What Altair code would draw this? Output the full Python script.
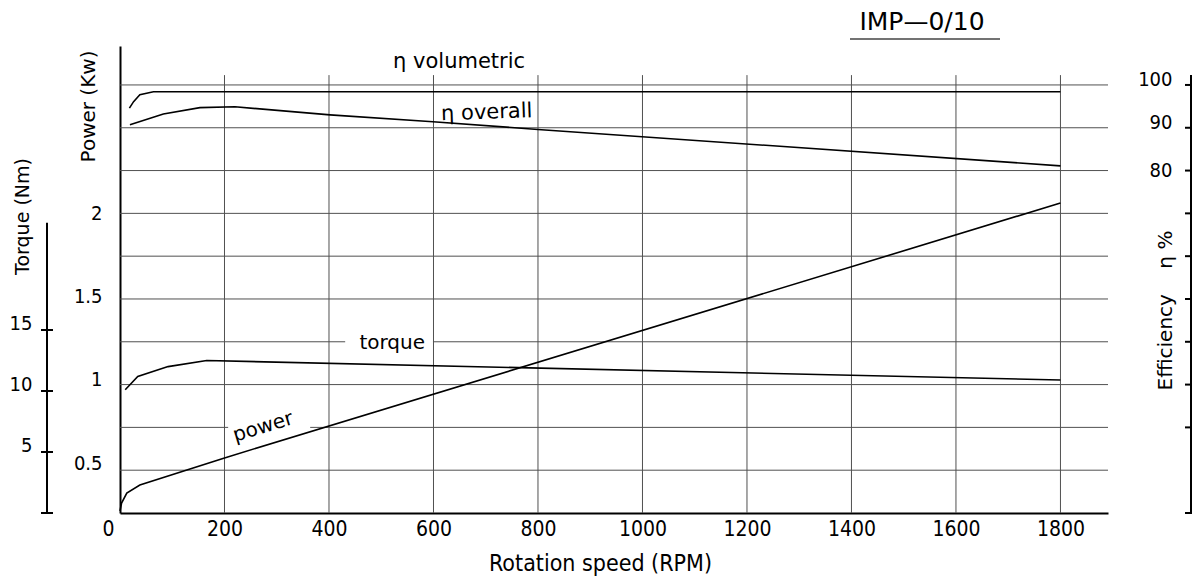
import altair as alt
import pandas as pd

NARROW = "Liberation Sans Narrow, DejaVu Sans Condensed, Arial Narrow, sans-serif"
SANS = "DejaVu Sans"

# ---------------- data ----------------
rpm_ticks = [0, 200, 400, 600, 800, 1000, 1200, 1400, 1600, 1800]
rpm_domain = [0, 1891]

eff_domain = [0, 109.1]
power_domain = [0.201, 3.006]
torque_domain = [0, 38.28]

# efficiency curves (%)
vol_rpm = [18, 26, 38, 64, 1800]
vol_eff = [94.6, 96.1, 97.7, 98.4, 98.4]
ovr_rpm = [19, 83, 153, 220, 402, 599, 800, 1800]
ovr_eff = [90.7, 93.2, 94.7, 94.9, 93.0, 91.4, 89.6, 81.1]

# torque (Nm)
tq_rpm = [10, 34, 92, 166, 1800]
tq_nm = [10.1, 11.2, 12.0, 12.5, 10.9]

# power (kW)
pw_rpm = [0, 3, 13, 38, 200, 1800]
pw_kw = [0.213, 0.261, 0.321, 0.369, 0.532, 2.063]

# grid
eff_grid_levels = [10, 20, 30, 40, 50, 60, 70, 80, 90, 100]
eff_grid_gaps = {40: (431, 599), 20: (207, 364)}
vgrid_rpm = [200, 400, 600, 800, 1000, 1200, 1400, 1600, 1800]
vgrid_top = 102.3

# axes
eff_label_values = [80, 90, 100]
eff_tick_values = [0, 20, 30, 40, 50, 60, 70, 80, 90, 100]
eff_axis_top = 102.3
power_label_values = [0.5, 1, 1.5, 2]
torque_label_values = [5, 10, 15]
torque_tick_values = [0, 5, 10, 15]
torque_axis_top = 23.8

# curve labels
eff_text = ["η  volumetric", "η  overall"]
eff_text_rpm = [649, 702]
eff_text_val = [105.4, 93.5]
eff_text_angle = [0, 358]
tq_text, tq_text_rpm, tq_text_val = "torque", 521, 13.93
pw_text, pw_text_rpm, pw_text_val, pw_text_angle = "power", 274, 0.718, 343

title_text = "IMP—0/10"

# ---------------- tables ----------------
eff_curves = pd.concat([
    pd.DataFrame({"rpm": vol_rpm, "eff": vol_eff, "series": "volumetric"}),
    pd.DataFrame({"rpm": ovr_rpm, "eff": ovr_eff, "series": "overall"}),
])
hgrid_rows = []
for lvl in eff_grid_levels:
    if lvl in eff_grid_gaps:
        a, b = eff_grid_gaps[lvl]
        hgrid_rows.append({"eff": lvl, "r0": rpm_domain[0], "r1": a})
        hgrid_rows.append({"eff": lvl, "r0": b, "r1": rpm_domain[1]})
    else:
        hgrid_rows.append({"eff": lvl, "r0": rpm_domain[0], "r1": rpm_domain[1]})
hgrid = pd.DataFrame(hgrid_rows)
vgrid = pd.DataFrame({"rpm": vgrid_rpm, "e0": 0, "e1": vgrid_top})
eff_ticks = pd.DataFrame({"eff": eff_tick_values})
eff_line = pd.DataFrame({"eff": [0], "e1": [eff_axis_top]})
eff_labels = pd.DataFrame({"rpm": eff_text_rpm, "eff": eff_text_val,
                           "text": eff_text, "angle": eff_text_angle})
torque_df = pd.DataFrame({"rpm": tq_rpm, "Nm": tq_nm})
torque_ticks = pd.DataFrame({"Nm": torque_tick_values})
torque_line = pd.DataFrame({"Nm": [0], "Nm2": [torque_axis_top]})
torque_lab = pd.DataFrame({"rpm": [tq_text_rpm], "Nm": [tq_text_val], "text": [tq_text]})
power_df = pd.DataFrame({"rpm": pw_rpm, "kW": pw_kw})
power_lab = pd.DataFrame({"rpm": [pw_text_rpm], "kW": [pw_text_val], "text": [pw_text]})
title_df = pd.DataFrame({"t": [title_text]})

# ---------------- scales / axes ----------------
x_scale = alt.Scale(domain=rpm_domain, nice=False, zero=False)
x_axis = alt.Axis(
    values=rpm_ticks, format="d", grid=False, ticks=False, domainColor="black",
    domainWidth=2, labelFont=NARROW, labelFontSize=21, labelColor="black",
    labelPadding=5, labelFlush=False, labelBaseline="top",
    labelOffset={"condition": {"test": "datum.value === 0", "value": -12}, "value": 0},
    title="Rotation speed (RPM)", titleFont=NARROW, titleFontSize=23,
    titleFontWeight="normal", titleColor="black", titleX=480, titleY=50,
    titleBaseline="middle", titleAlign="center",
)


def X(field):
    return alt.X(f"{field}:Q", scale=x_scale, axis=x_axis)


eff_scale = alt.Scale(domain=eff_domain, nice=False, zero=False)
eff_axis = alt.Axis(
    orient="left", offset=-1071, values=eff_label_values, ticks=False, domain=False,
    grid=False, labelFont=NARROW, labelFontSize=20, labelColor="black", labelPadding=19,
    labelBaseline="middle",
    labelOffset={"condition": {"test": "datum.value >= 90", "value": -5}, "value": 0},
    title="Efficiency\u00a0\u00a0\u00a0\u00a0η\u00a0%", titleFont=SANS, titleFontSize=20,
    titleFontWeight="normal", titleColor="black", titleX=-26, titleY=264,
    titleAngle=270, titleBaseline="middle", titleAlign="center",
)
power_scale = alt.Scale(domain=power_domain, nice=False, zero=False)
power_axis = alt.Axis(
    orient="left", offset=0, values=power_label_values, ticks=False, domain=True,
    domainColor="black", domainWidth=2, grid=False, labelExpr="datum.value + ''",
    labelFont=NARROW, labelFontSize=20, labelColor="black", labelPadding=18,
    labelBaseline="middle",
    title="Power (Kw)", titleFont=SANS, titleFontSize=20, titleFontWeight="normal",
    titleColor="black", titleX=-32, titleY=60, titleAngle=270,
    titleBaseline="middle", titleAlign="center",
)
torque_scale = alt.Scale(domain=torque_domain, nice=False, zero=False)
torque_axis = alt.Axis(
    orient="left", offset=73, values=torque_label_values, ticks=False, domain=False,
    grid=False, labelFont=NARROW, labelFontSize=20, labelColor="black", labelPadding=15,
    labelBaseline="middle", labelOffset=-7,
    title="Torque (Nm)", titleFont=SANS, titleFontSize=19, titleFontWeight="normal",
    titleColor="black", titleX=-25, titleY=170, titleAngle=270,
    titleBaseline="middle", titleAlign="center",
)


def YE(field):
    return alt.Y(f"{field}:Q", scale=eff_scale, axis=eff_axis)


def YP(field):
    return alt.Y(f"{field}:Q", scale=power_scale, axis=power_axis)


def YT(field):
    return alt.Y(f"{field}:Q", scale=torque_scale, axis=torque_axis)


GRID = "#505050"

# ---------------- efficiency layer ----------------
hgrid_l = alt.Chart(hgrid).mark_rule(color=GRID, strokeWidth=1).encode(
    x=X("r0"), x2="r1:Q", y=YE("eff"))
vgrid_l = alt.Chart(vgrid).mark_rule(color=GRID, strokeWidth=1).encode(
    x=X("rpm"), y=YE("e0"), y2="e1:Q")
eff_curve_l = alt.Chart(eff_curves).mark_line(color="black", strokeWidth=1.6).encode(
    x=X("rpm"), y=YE("eff"), detail="series:N")
eff_text_l = alt.Chart(eff_labels).mark_text(
    font=SANS, fontSize=21, color="black", baseline="middle", align="center").encode(
    x=X("rpm"), y=YE("eff"), text="text:N", angle=alt.Angle("angle:Q", scale=None))
eff_axline_l = alt.Chart(eff_line).mark_rule(color="black", strokeWidth=2).encode(
    x=alt.value(1071), y=YE("eff"), y2="e1:Q")
eff_ticks_l = alt.Chart(eff_ticks).mark_rule(color="black", strokeWidth=2).encode(
    x=alt.value(1065), x2=alt.value(1077), y=YE("eff"))
title_l = alt.Chart(title_df).mark_text(
    font=SANS, fontSize=25, color="black", baseline="middle", align="center").encode(
    x=alt.value(802), y=alt.value(-24), text="t:N")
underline_l = alt.Chart(title_df).mark_rule(color="#444444", strokeWidth=1.5).encode(
    x=alt.value(730), x2=alt.value(880), y=alt.value(-7))

eff_layer = alt.layer(hgrid_l, vgrid_l, eff_curve_l, eff_text_l, eff_axline_l,
                      eff_ticks_l, title_l, underline_l)

# ---------------- power layer ----------------
power_l = alt.Chart(power_df).mark_line(color="black", strokeWidth=1.6).encode(
    x=X("rpm"), y=YP("kW"))
power_text_l = alt.Chart(power_lab).mark_text(
    font=SANS, fontSize=20, color="black", baseline="middle", align="center",
    angle=pw_text_angle).encode(x=X("rpm"), y=YP("kW"), text="text:N")
power_layer = alt.layer(power_l, power_text_l)

# ---------------- torque layer ----------------
torque_l = alt.Chart(torque_df).mark_line(color="black", strokeWidth=1.6).encode(
    x=X("rpm"), y=YT("Nm"))
torque_text_l = alt.Chart(torque_lab).mark_text(
    font=SANS, fontSize=20, color="black", baseline="middle", align="center").encode(
    x=X("rpm"), y=YT("Nm"), text="text:N")
torque_axline_l = alt.Chart(torque_line).mark_rule(color="black", strokeWidth=2).encode(
    x=alt.value(-73), y=YT("Nm"), y2="Nm2:Q")
torque_ticks_l = alt.Chart(torque_ticks).mark_rule(color="black", strokeWidth=2).encode(
    x=alt.value(-79), x2=alt.value(-67), y=YT("Nm"))
torque_layer = alt.layer(torque_l, torque_text_l, torque_axline_l, torque_ticks_l)

chart = alt.layer(eff_layer, power_layer, torque_layer).resolve_scale(
    y="independent"
).properties(
    width=988, height=467,
    padding={"left": 112, "top": 38, "right": 84, "bottom": 64},
    autosize=alt.AutoSizeParams(type="none"),
    background="white",
).configure_view(stroke=None)

chart.save("out.html", embed_options={"renderer": "svg", "actions": False})
